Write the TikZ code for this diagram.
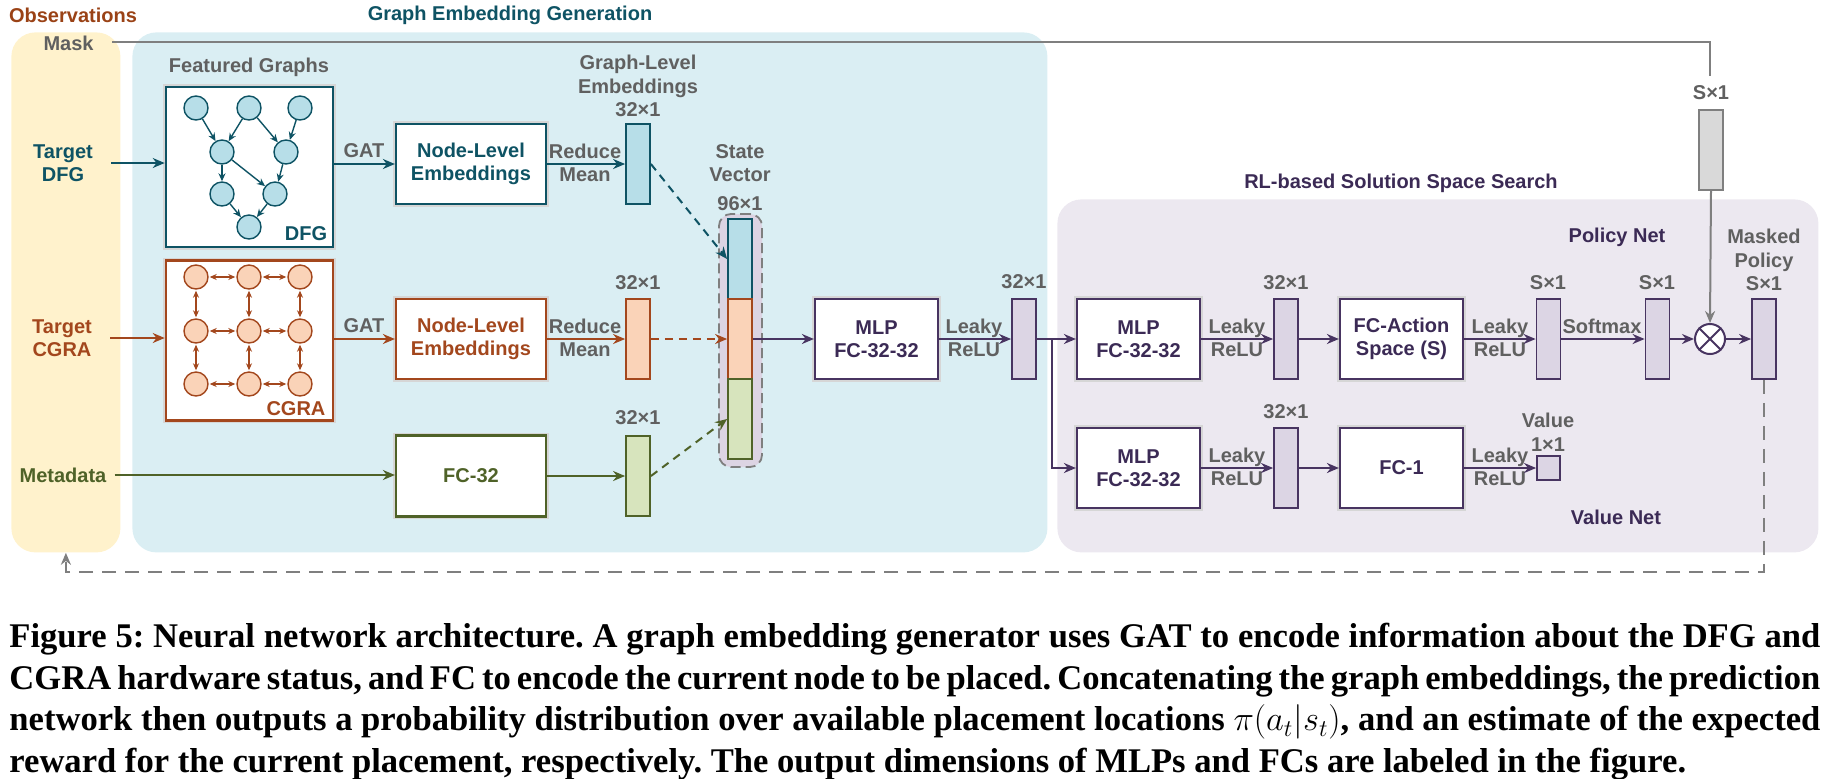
\documentclass[tikz,border=0pt]{standalone}
\usepackage{fontspec}
\newfontfamily\lsans{Liberation Sans}
\newfontfamily\capserif{Liberation Serif}
\usetikzlibrary{arrows.meta,calc}
\definecolor{tealD}{HTML}{0E5364}
\definecolor{tealF}{HTML}{B7DEE8}
\definecolor{brownD}{HTML}{A3471D}
\definecolor{obsBrown}{HTML}{9A4216}
\definecolor{peachF}{HTML}{FAD3B8}
\definecolor{greenD}{HTML}{4F6228}
\definecolor{greenF}{HTML}{D7E4BD}
\definecolor{purpD}{HTML}{483461}
\definecolor{purpT}{HTML}{3B2A55}
\definecolor{purpF}{HTML}{DCD5E4}
\definecolor{purpP}{HTML}{ECE8F0}
\definecolor{grayT}{HTML}{606060}
\definecolor{grayL}{HTML}{7F7F7F}
\definecolor{grayF}{HTML}{D9D9D9}
\definecolor{yelF}{HTML}{FFF2CC}
\definecolor{bluF}{HTML}{DAEEF3}
\definecolor{svF}{HTML}{DCD4E3}
\begin{document}
\begin{tikzpicture}[x=0.5pt,y=-0.5pt,
  lbl/.style={font=\lsans\bfseries\fontsize{10}{11.75}\selectfont, align=center, inner sep=1pt},
  glbl/.style={lbl, text=grayT},
  panel/.style={rounded corners=12pt, inner sep=0pt, anchor=north west},
  halo/.style={preaction={draw=black!16, line width=2.8pt}},
  box/.style={draw, line width=1.1pt, fill=white, minimum width=61.5pt, minimum height=40pt, lbl, halo},
  nlbox/.style={box, minimum width=75pt},
  gbox/.style={draw, line width=1.3pt, fill=white, minimum width=83.5pt, minimum height=80pt, inner sep=0pt, halo},
  bar/.style={draw, line width=0.9pt, minimum width=12pt, minimum height=40pt, inner sep=0pt},
  pbar/.style={bar, draw=purpD, fill=purpF},
  arr/.style={line width=1pt, -{Stealth[length=6pt,width=5pt]}},
  darr/.style={arr, dash pattern=on 4pt off 3pt},
  dnode/.style={circle, draw=tealD, fill=tealF, line width=0.7pt, minimum size=12pt, inner sep=0pt},
  cnode/.style={circle, draw=brownD, fill=peachF, line width=0.7pt, minimum size=12pt, inner sep=0pt},
  garr/.style={line width=0.7pt, -{Stealth[length=4pt,width=3.5pt]}},
  gbiarr/.style={line width=0.7pt, {Stealth[length=3.5pt,width=3pt]}-{Stealth[length=3.5pt,width=3pt]}, shorten <=0.5pt, shorten >=0.5pt},
]
\useasboundingbox (0,0) rectangle (1827,778);
% panels
\node[panel, fill=yelF, minimum width=54.5pt, minimum height=260pt] (obs) at (11,32) {};
\node[panel, fill=bluF, minimum width=457.5pt, minimum height=260pt] (gen) at (132,32) {};
\node[panel, fill=purpP, minimum width=380.5pt, minimum height=176.5pt] (rl) at (1057,199) {};
% titles
\node[lbl, text=obsBrown] (tobs) at (73,15) {Observations};
\node[lbl, text=tealD] (tgen) at (510,15) {Graph Embedding Generation};
\node[lbl, text=purpT] (trl) at (1401,183) {RL-based Solution Space Search};
\node[lbl, text=purpT] (tpol) at (1617,237) {Policy Net};
\node[lbl, text=purpT] (tval) at (1616,517) {Value Net};
% observations
\node[glbl, anchor=east] (mask) at (96,43) {Mask};
\node[lbl, text=tealD] (tdfg) at (63,163) {Target\\DFG};
\node[lbl, text=brownD] (tcgra) at (62,338) {Target\\CGRA};
\node[lbl, text=greenD] (meta) at (63,475) {Metadata};
% featured graphs
\node[glbl] (fg) at (249,67) {Featured Graphs};
\node[gbox, draw=tealD] (dfg) at (249.5,167) {};
\node[lbl, text=tealD] (dfglbl) at (306,234) {DFG};
\node[dnode] (d1) at (196,108) {};
\node[dnode] (d2) at (249,108) {};
\node[dnode] (d3) at (300,108) {};
\node[dnode] (d4) at (222,152) {};
\node[dnode] (d5) at (286,152) {};
\node[dnode] (d6) at (222,194) {};
\node[dnode] (d7) at (275,194) {};
\node[dnode] (d8) at (249,227) {};
\foreach \a/\b in {d1/d4,d2/d4,d2/d5,d3/d5,d4/d6,d4/d7,d5/d7,d6/d8,d7/d8}
  \draw[garr, tealD] (\a) -- (\b);
\node[gbox, draw=brownD] (cgra) at (249.5,340.5) {};
\node[lbl, text=brownD] (cgralbl) at (296,409) {CGRA};
\foreach \i/\y in {1/277,2/331,3/384}
  \foreach \j/\x in {1/196,2/249,3/300}
    \node[cnode] (c\i\j) at (\x,\y) {};
\foreach \a/\b in {c11/c12,c12/c13,c21/c22,c22/c23,c31/c32,c32/c33,c11/c21,c21/c31,c12/c22,c22/c32,c13/c23,c23/c33}
  \draw[gbiarr, brownD] (\a) -- (\b);
% node-level embeddings
\node[nlbox, draw=tealD, text=tealD] (nl1) at (471,164) {Node-Level\\Embeddings};
\node[nlbox, draw=brownD, text=brownD] (nl2) at (471,339) {Node-Level\\Embeddings};
\node[nlbox, draw=greenD, text=greenD, minimum height=40.5pt] (fc32) at (471,476) {FC-32};
\node[glbl] (gat1) at (364,151) {GAT};
\node[glbl] (gat2) at (364,326) {GAT};
\node[glbl] (rm1) at (585,163) {Reduce\\Mean};
\node[glbl] (rm2) at (585,338) {Reduce\\Mean};
% graph-level bars
\node[bar, draw=tealD, fill=tealF] (b1) at (638,164) {};
\node[bar, draw=brownD, fill=peachF] (b2) at (638,339) {};
\node[bar, draw=greenD, fill=greenF] (b3) at (638,476) {};
\node[glbl] (gle) at (638,86) {Graph-Level\\Embeddings\\32×1};
\node[glbl] (l2) at (638,283) {32×1};
\node[glbl] (l3) at (638,418) {32×1};
% state vector
\node[draw=grayL, fill=svF, line width=0.9pt, dash pattern=on 5pt off 2.5pt, rounded corners=6pt, minimum width=21.5pt, minimum height=126.5pt, inner sep=0pt] (sv) at (740.5,340.5) {};
\node[bar, draw=tealD, fill=tealF] (s1) at (740,259) {};
\node[bar, draw=brownD, fill=peachF] (s2) at (740,339) {};
\node[bar, draw=greenD, fill=greenF] (s3) at (740,419) {};
\node[glbl] (svl) at (740,163) {State\\Vector};
\node[glbl] (svd) at (740,204) {96×1};
% main MLP
\node[box, draw=purpD, text=purpT] (mlp) at (876.5,339) {MLP\\FC-32-32};
\node[glbl] (lr0) at (974,338) {Leaky\\ReLU};
\node[pbar] (h0) at (1024,339) {};
\node[glbl] (h0l) at (1024,282) {32×1};
% policy net
\node[box, draw=purpD, text=purpT] (mlpp) at (1138.5,339) {MLP\\FC-32-32};
\node[glbl] (lr1) at (1237,338) {Leaky\\ReLU};
\node[pbar] (p1) at (1286,339) {};
\node[glbl] (p1l) at (1286,283) {32×1};
\node[box, draw=purpD, text=purpT] (fca) at (1401.5,339) {FC-Action\\Space (S)};
\node[glbl] (lr2) at (1500,338) {Leaky\\ReLU};
\node[pbar] (p2) at (1548.5,339) {};
\node[glbl] (p2l) at (1548,283) {S×1};
\node[glbl] (smx) at (1602,326) {Softmax};
\node[pbar] (p3) at (1657.5,339) {};
\node[glbl] (p3l) at (1657,283) {S×1};
\node[circle, draw=purpD, fill=white, line width=1pt, minimum size=15pt, inner sep=0pt] (mul) at (1710,339) {};
\draw[purpD, line width=1pt] (mul.north west) -- (mul.south east) (mul.north east) -- (mul.south west);
\node[pbar] (mb) at (1764,339) {};
\node[glbl] (mbl) at (1764,260) {Masked\\Policy\\S×1};
% mask
\node[bar, draw=grayL, fill=grayF] (gb) at (1711,150) {};
\node[glbl] (gbl) at (1711,93) {S×1};
\coordinate (maskend) at (1710,76);
% value net
\node[box, draw=purpD, text=purpT] (mlpv) at (1138.5,468) {MLP\\FC-32-32};
\node[glbl] (lr3) at (1237,467) {Leaky\\ReLU};
\node[pbar] (v1) at (1286,468) {};
\node[glbl] (v1l) at (1286,412) {32×1};
\node[box, draw=purpD, text=purpT] (fc1) at (1401.5,468) {FC-1};
\node[glbl] (lr4) at (1500,467) {Leaky\\ReLU};
\node[draw=purpD, fill=purpF, line width=0.9pt, minimum width=11.5pt, minimum height=12pt, inner sep=0pt] (val) at (1548.5,468) {};
\node[glbl] (vall) at (1548,432) {Value\\1×1};
% connectors
\draw[arr, tealD] (tdfg.east) ++(8pt,0) -- (dfg.west |- tdfg.east);
\draw[arr, tealD] (dfg.east |- nl1.west) -- (nl1.west);
\draw[arr, tealD] (nl1.east) -- (b1.west);
\draw[arr, brownD] (tcgra.east) ++(8pt,0) -- (cgra.west |- tcgra.east);
\draw[arr, brownD] (cgra.east |- nl2.west) -- (nl2.west);
\draw[arr, brownD] (nl2.east) -- (b2.west);
\draw[arr, greenD] (meta.east) ++(3pt,0) -- (fc32.west |- meta.east);
\draw[arr, greenD] (fc32.east |- b3.west) -- (b3.west);
\draw[darr, tealD] (b1.east) -- (s1.west);
\draw[darr, brownD] (b2.east) -- (s2.west);
\draw[darr, greenD] (b3.east) -- (s3.west);
\draw[arr, purpD] (s2.east) -- (mlp.west);
\draw[arr, purpD] (mlp.east) -- (h0.west);
\coordinate (br) at (1052,339);
\draw[arr, purpD] (h0.east) -- (mlpp.west);
\draw[arr, purpD] (br) |- (mlpv.west);
\draw[arr, purpD] (mlpp.east) -- (p1.west);
\draw[arr, purpD] (p1.east) -- (fca.west);
\draw[arr, purpD] (fca.east) -- (p2.west);
\draw[arr, purpD] (p2.east) -- (p3.west);
\draw[arr, purpD] (p3.east) -- (mul.west);
\draw[arr, purpD] (mul.east) -- (mb.west);
\draw[arr, purpD] (mlpv.east) -- (v1.west);
\draw[arr, purpD] (v1.east) -- (fc1.west);
\draw[arr, purpD] (fc1.east) -- (val.west);
\draw[line width=1pt, grayL] (mask.east) ++(8pt,0.5pt) -| (maskend);
\draw[arr, grayL] (gb.south) -- (mul.north);
\coordinate (fb) at (1764,572);
\draw[arr, grayL, dash pattern=on 7pt off 4.5pt] (mb.south) -- (fb) -| (obs.south);
% caption
\node[anchor=north west, inner sep=0pt, text width=905.5pt, align=justify,
  font=\capserif\bfseries\fontsize{17.3}{20.8}\selectfont\frenchspacing] (cap) at (9,623)
 {Figure 5: Neural network architecture. A graph embedding generator uses GAT to encode information about the DFG and\linebreak
 CGRA hardware status, and FC to encode the current node to be placed. Concatenating the graph embeddings, the prediction\linebreak
 network then outputs a probability distribution over available placement locations $\pi(a_t|s_t)$, and an estimate of the expected\linebreak
 reward for the current placement, respectively. The output dimensions of MLPs and FCs are labeled in the figure.};
\end{tikzpicture}
\end{document}
